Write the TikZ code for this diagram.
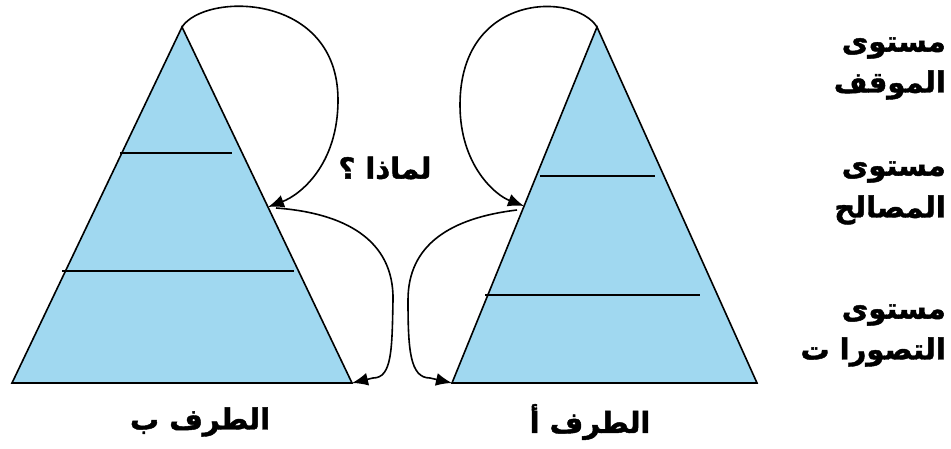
\documentclass[tikz,border=0pt]{standalone}
\usepackage{fontspec}
\newfontfamily\arabicfont[Script=Arabic,BoldFont={DejaVu Sans Bold},BoldFeatures={FakeBold=1.5}]{DejaVu Sans}
\TeXXeTstate=1
\usetikzlibrary{arrows.meta}
\definecolor{pyrblue}{RGB}{160,216,240}

\begin{document}
\begin{tikzpicture}[x=1pt, y=-1pt, >={Latex[length=16pt,width=13pt]},
  every node/.style={font=\arabicfont\bfseries\fontsize{29}{32}\selectfont, inner sep=0pt},
  pyramid/.style={draw=black, line width=1.6pt, fill=pyrblue},
  level/.style={draw=black, line width=1.6pt},
  loop/.style={draw=black, line width=1.6pt, ->}]
  \useasboundingbox (0,0) rectangle (951,448);
  % party b (left pyramid)
  \coordinate (bapex) at (182,27);
  \coordinate (bleft) at (12,383);
  \coordinate (bright) at (352,383);
  \coordinate (bedge) at (268,207);
  \coordinate (bstart) at (276,208);
  \filldraw[pyramid] (bapex) -- (bleft) -- (bright) -- cycle;
  \draw[level] (120,153) -- (232,153);
  \draw[level] (62,271) -- (294,271);
  % party a (right pyramid)
  \coordinate (aapex) at (597,27);
  \coordinate (aleft) at (452,383);
  \coordinate (aright) at (757,383);
  \coordinate (aedge) at (524,206);
  \coordinate (astart) at (517,210);
  \filldraw[pyramid] (aapex) -- (aleft) -- (aright) -- cycle;
  \draw[level] (540,176) -- (655,176);
  \draw[level] (485,295) -- (700,295);
  % loops
  \draw[loop] (bapex) .. controls (205,-8) and (338,-8) .. (338,100)
    .. controls (338,165) and (300,195) .. (bedge);
  \draw[loop] (bstart) .. controls (345,213) and (394,240) .. (393,300)
    .. controls (392,350) and (392,378) .. (373,378) -- (bright);
  \draw[loop] (aapex) .. controls (575,-8) and (460,-8) .. (460,105)
    .. controls (460,165) and (495,195) .. (aedge);
  \draw[loop] (astart) .. controls (450,218) and (408,245) .. (408,300)
    .. controls (408,350) and (410,378) .. (430,378) -- (aleft);
  % labels
  \node (why) at (385,168) {\beginR لماذا ؟\endR};
  \node (partb) at (200,422) {\beginR الطرف ب\endR};
  \node (parta) at (590,422) {\beginR الطرف أ\endR};
  \node[anchor=east] (pos1) at (946,48) {\beginR مستوى\endR};
  \node[anchor=east] (pos2) at (946,85) {\beginR الموقف\endR};
  \node[anchor=east] (int1) at (946,172) {\beginR مستوى\endR};
  \node[anchor=east] (int2) at (946,210) {\beginR المصالح\endR};
  \node[anchor=east] (per1) at (946,315) {\beginR مستوى\endR};
  \node[anchor=east] (per2) at (946,352) {\beginR التصورا ت\endR};
\end{tikzpicture}
\end{document}
